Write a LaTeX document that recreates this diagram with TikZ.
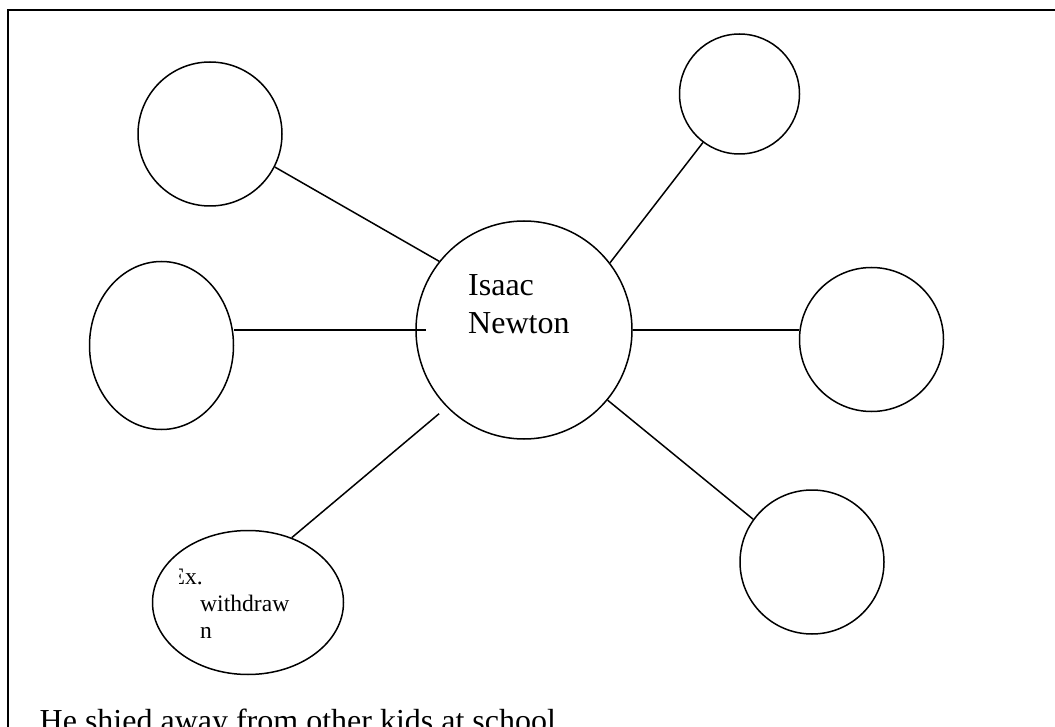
\documentclass[tikz,border=0pt]{standalone}
\usepackage{fontspec}
\setmainfont{Liberation Serif}
\usetikzlibrary{shapes.geometric}

\begin{document}
\begin{tikzpicture}[x=1pt, y=-1pt,
    bubble/.style={draw, ellipse, line width=1.5pt, inner sep=0pt},
    spoke/.style={line width=1.5pt},
    big/.style={font=\fontsize{32}{38}\selectfont, inner sep=0pt, anchor=base west},
    small/.style={font=\fontsize{23.6}{27}\selectfont, inner sep=0pt, anchor=base west}]
  \clip (0,0) rectangle (1055,727);

  % Frame
  \draw[line width=1.7pt] (8,740) -- (8,10) -- (1060,10);

  % Bubbles
  \node[bubble, minimum width=216pt, minimum height=218pt] (c) at (524,330) {};
  \node[bubble, minimum width=144pt, minimum height=144pt] (tl) at (210,134) {};
  \node[bubble, minimum width=144pt, minimum height=168pt] (le) at (161.5,345.5) {};
  \node[bubble, minimum width=120pt, minimum height=120pt] (tr) at (739.5,94) {};
  \node[bubble, minimum width=144pt, minimum height=144pt] (rc) at (871.5,339.5) {};
  \node[bubble, minimum width=144pt, minimum height=144pt] (br) at (812,562) {};
  \node[bubble, minimum width=191pt, minimum height=144pt] (bl) at (248,602.5) {};

  % Spokes
  \draw[spoke] (tl.-27) -- (c.141);
  \draw[spoke] (le.east |- c.west) -- ([xshift=11pt]c.west);
  \draw[spoke] (c.38) -- (tr.233);
  \draw[spoke] (c.east) -- (rc.west |- c.east);
  \draw[spoke, shorten >=10pt] (bl.56) -- (c.225);
  \draw[spoke] (c.-40) -- (br.144);

  % Labels
  \node[big] (isaac) at (468,296) {Isaac};
  \node[big] (newton) at (468,334) {Newton};
  \begin{scope}
    \clip (179,560) rectangle (260,600);
    \node[small] (ex) at (170.5,584) {Ex.};
  \end{scope}
  \node[small] (withdraw) at (200,611) {withdraw};
  \node[small] (n) at (200,638) {n};
  \node[big] (note) at (39.5,731) {He shied away from other kids at school};
\end{tikzpicture}
\end{document}
